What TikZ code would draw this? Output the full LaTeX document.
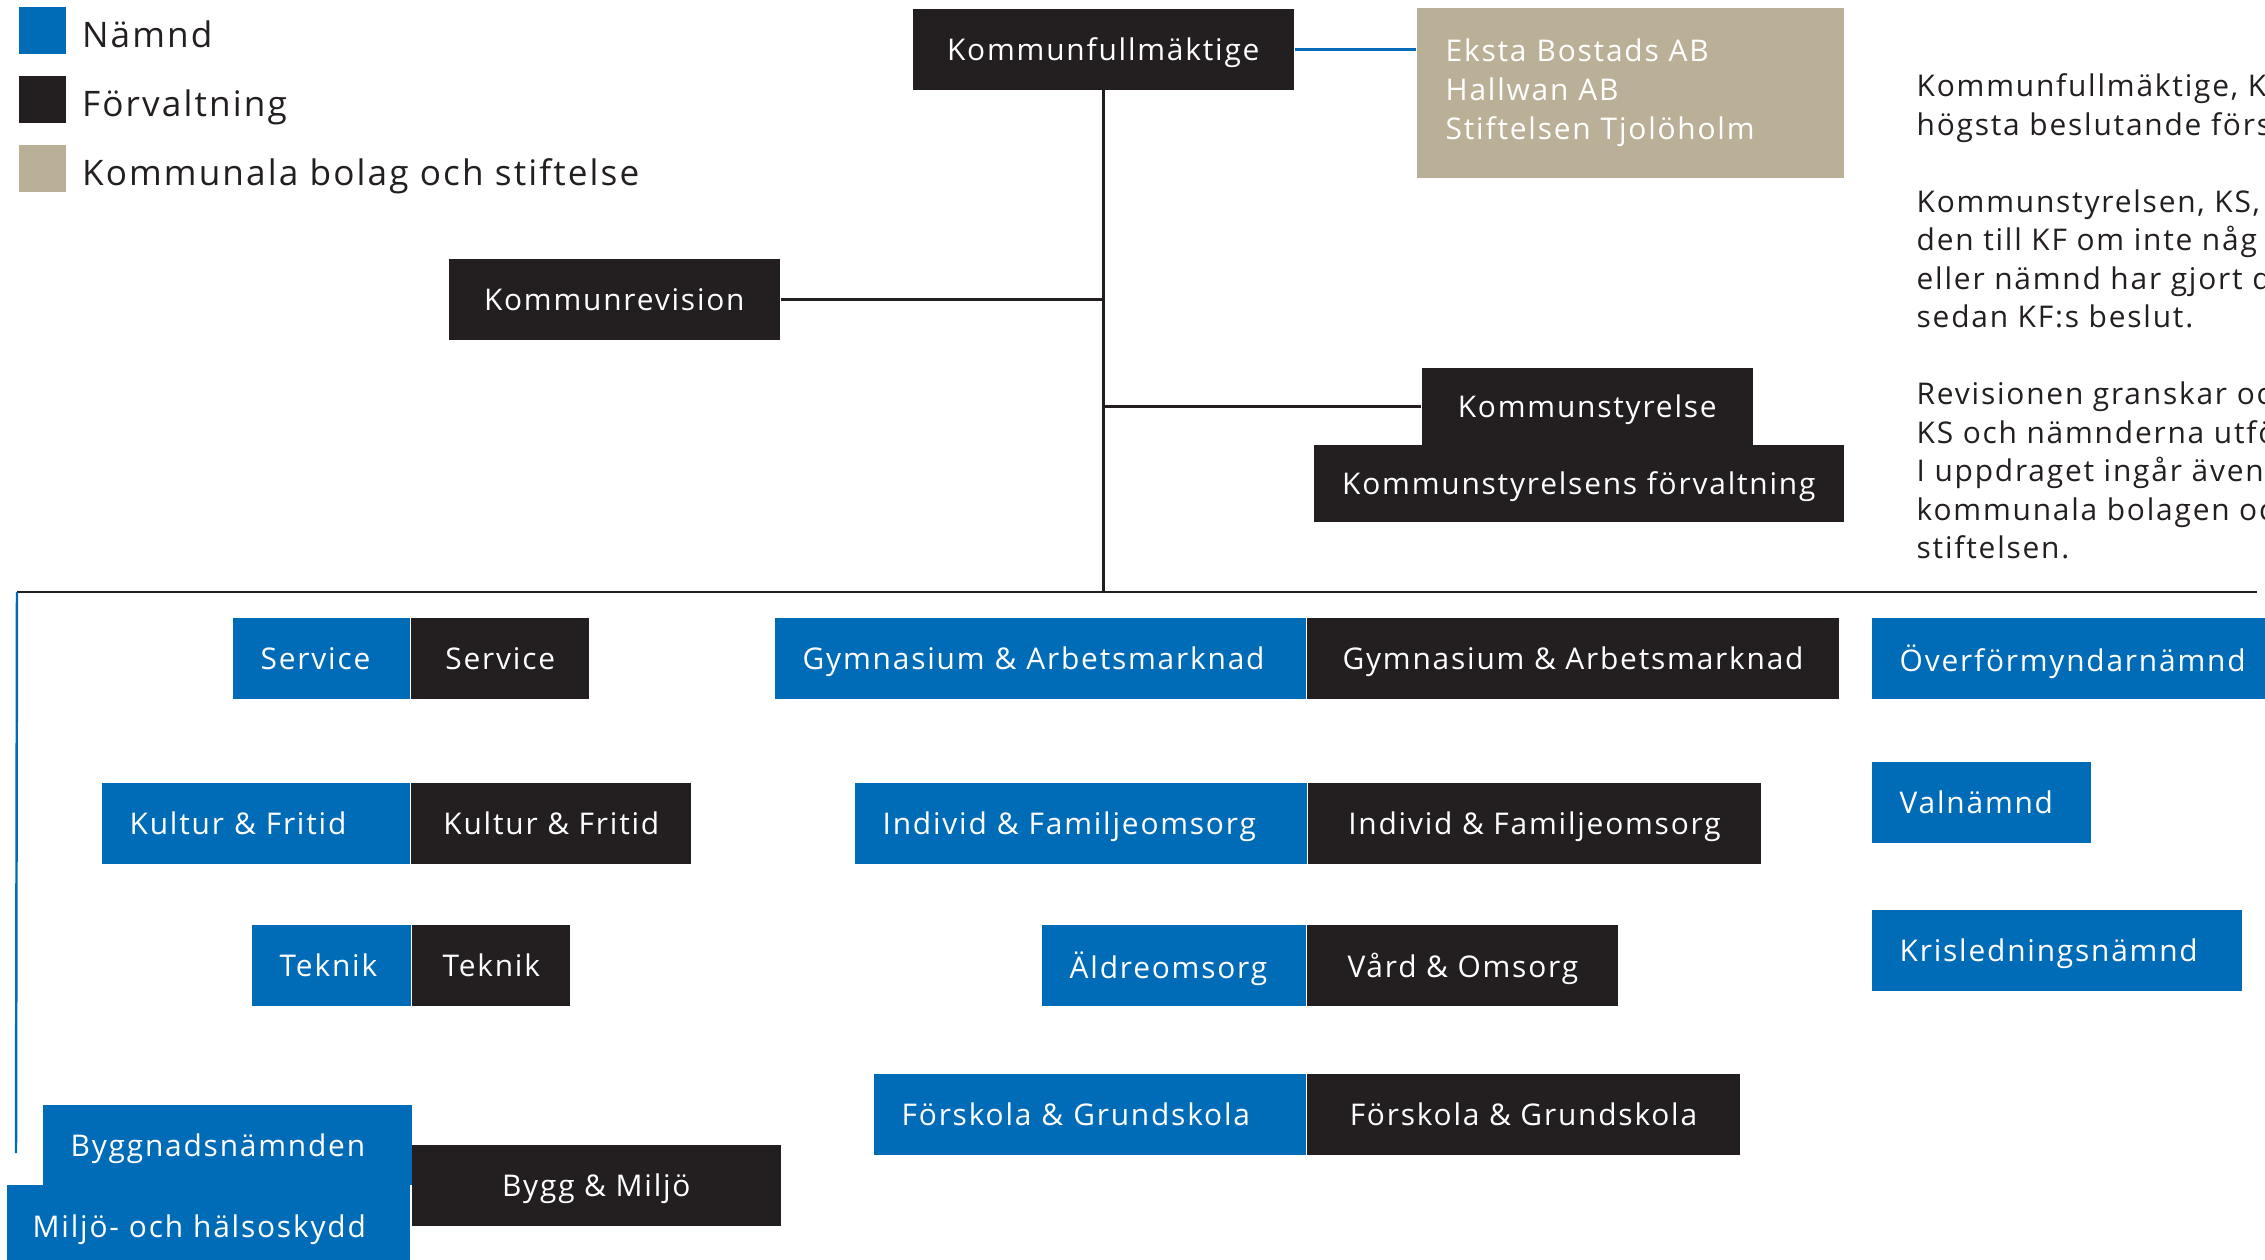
\documentclass[tikz,border=0pt]{standalone}
\usepackage{fontspec}
\setmainfont{Open Sans}[LetterSpace=6]
\usetikzlibrary{positioning}
\definecolor{namndblue}{RGB}{0,108,183}
\definecolor{forvblack}{RGB}{35,31,32}
\definecolor{bolagtan}{RGB}{185,176,151}

\begin{document}
\begin{tikzpicture}[x=0.01cm, y=-0.01cm,
    box/.style={anchor=north west, inner sep=0pt, minimum height=0.81cm, text depth=0pt, text=white, font=\fontsize{8.5}{10}\selectfont},
    namnd/.style={box, fill=namndblue, inner xsep=0.28cm, text width=#1, align=left},
    forv/.style={box, fill=forvblack, minimum width=#1, align=center},
    legendsq/.style={minimum size=0.47cm, inner sep=0pt, anchor=north west},
    legendtxt/.style={right=0.15cm of #1, yshift=-0.035cm, inner sep=0pt, text depth=0pt, text=forvblack, font=\fontsize{10}{12}\selectfont},
    bus/.style={draw=forvblack, line width=0.8pt}]
    \useasboundingbox (0,0) rectangle (2265,1260);
    \clip (0,0) rectangle (2265,1260);

    % legend
    \node[legendsq, fill=namndblue] (sqN) at (18,6) {};
    \node[legendsq, fill=forvblack] (sqF) at (18,75) {};
    \node[legendsq, fill=bolagtan] (sqB) at (18,144) {};
    \node[legendtxt=sqN] (lgN) {Nämnd};
    \node[legendtxt=sqF] (lgF) {Förvaltning};
    \node[legendtxt=sqB] (lgB) {Kommunala bolag och stiftelse};

    % top
    \node[forv=3.81cm] (kf) at (912,8) {Kommunfullmäktige};
    \node[forv=3.31cm] (rev) at (448,258) {Kommunrevision};
    \node[forv=3.31cm, minimum height=0.77cm] (ks) at (1421,367) {Kommunstyrelse};
    \node[forv=5.30cm, minimum height=0.77cm] (ksf) at (1313,444) {Kommunstyrelsens förvaltning};
    \node[box, fill=bolagtan, minimum height=1.70cm, text depth=, inner xsep=0.29cm, text width=3.69cm, align=left,
      font=\fontsize{8.5}{10.98}\selectfont] (bolag) at (1416,7)
      {Eksta Bostads AB\\Hallwan AB\\Stiftelsen Tjolöholm};
    \node[anchor=north west, inner sep=0pt, align=left, text=forvblack,
      font=\fontsize{8.5}{10.95}\selectfont] (info) at (1916,73)
      {Kommunfullmäktige, K\\högsta beslutande förs\\[10.95pt]
       Kommunstyrelsen, KS,\\den till KF om inte någ\\eller nämnd har gjort d\\sedan KF:s beslut.\\[10.95pt]
       Revisionen granskar oc\\KS och nämnderna utfö\\I uppdraget ingår även\\kommunala bolagen oc\\stiftelsen.};

    \coordinate (busL) at (17,592);
    \coordinate (busR) at (2257,592);
    \coordinate (busEnd) at (16,1153);

    % namnder och forvaltningar
    \node[namnd=1.21cm] (svcN) at (232,617) {Service};
    \node[forv=1.78cm, right=0pt of svcN] (svcF) {Service};
    \node[namnd=2.52cm] (kulN) at (101,782) {Kultur \& Fritid};
    \node[forv=2.80cm, right=0pt of kulN] (kulF) {Kultur \& Fritid};
    \node[namnd=1.03cm] (tekN) at (251,924) {Teknik};
    \node[forv=1.58cm, right=0pt of tekN] (tekF) {Teknik};
    \node[namnd=3.13cm, minimum height=0.80cm] (bygN) at (42,1104) {Byggnadsnämnden};
    \node[namnd=3.51cm, minimum height=0.82cm, inner xsep=0.26cm] (milN) at (6,1184) {Miljö- och hälsoskydd};
    \node[forv=3.69cm] (bygF) at (411,1144) {Bygg \& Miljö};

    \node[namnd=4.75cm] (gymN) at (774,617) {Gymnasium \& Arbetsmarknad};
    \node[forv=5.31cm, right=0pt of gymN] (gymF) {Gymnasium \& Arbetsmarknad};
    \node[namnd=3.96cm] (indN) at (854,782) {Individ \& Familjeomsorg};
    \node[forv=4.52cm, right=0pt of indN] (indF) {Individ \& Familjeomsorg};
    \node[namnd=2.08cm] (aldN) at (1041,924) {Äldreomsorg};
    \node[forv=3.11cm, right=0pt of aldN] (aldF) {Vård \& Omsorg};
    \node[namnd=3.76cm] (forN) at (873,1073) {Förskola \& Grundskola};
    \node[forv=4.32cm, right=0pt of forN] (forF) {Förskola \& Grundskola};

    \node[namnd=3.90cm] (ovfN) at (1871,617) {Överförmyndarnämnd};
    \node[namnd=1.63cm] (valN) at (1871,761) {Valnämnd};
    \node[namnd=3.14cm] (kriN) at (1871,909) {Krisledningsnämnd};

    % lines
    \draw[bus] (kf.south) -- (kf.south |- busL);
    \draw[bus] (rev.east) -- (rev.east -| kf.south);
    \draw[bus] (ks.west) -- (ks.west -| kf.south);
    \draw[bus] (busL) -- (busR);
    \draw[namndblue, line width=0.8pt] (kf.east) -- (kf.east -| bolag.west);
    \draw[namndblue, line width=0.7pt] (busL) -- (busEnd);
\end{tikzpicture}
\end{document}
